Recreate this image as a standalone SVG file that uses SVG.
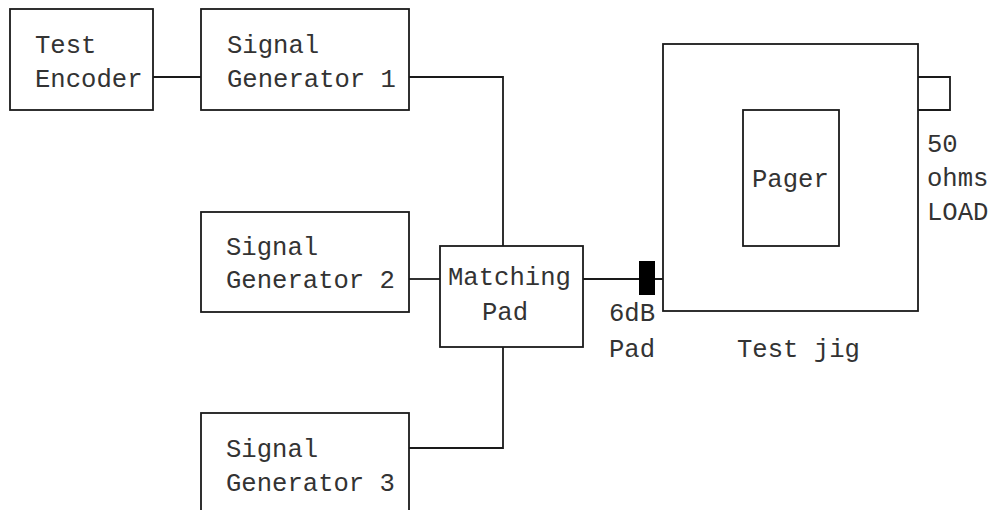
<svg xmlns="http://www.w3.org/2000/svg" width="998" height="510" viewBox="0 0 998 510">
<style>
.box{fill:#fff;stroke:#1a1a1a;stroke-width:1.8}
.ln{fill:none;stroke:#1a1a1a;stroke-width:1.8}
text{font-family:"Liberation Mono","Courier New",monospace;font-size:25.6px;fill:#333}
</style>
<rect width="998" height="510" fill="#fff"/>
<g id="connectors">
<line class="ln" x1="153" y1="77" x2="201" y2="77"/>
<polyline class="ln" points="409,77 503,77 503,246"/>
<line class="ln" x1="409" y1="279" x2="440" y2="279"/>
<polyline class="ln" points="409,448 503,448 503,347"/>
<line class="ln" x1="583" y1="279" x2="663" y2="279"/>
<polyline class="ln" points="918,77 950,77 950,110 918,110"/>
</g>
<g id="test-encoder">
<rect class="box" x="10" y="9" width="143" height="101"/>
<text x="35" y="53">Test</text>
<text x="35" y="87">Encoder</text>
</g>
<g id="sig-gen-1">
<rect class="box" x="201" y="9" width="208" height="101"/>
<text x="227" y="53">Signal</text>
<text x="227" y="87">Generator 1</text>
</g>
<g id="sig-gen-2">
<rect class="box" x="201" y="212" width="208" height="100"/>
<text x="226" y="255">Signal</text>
<text x="226" y="288">Generator 2</text>
</g>
<g id="sig-gen-3">
<rect class="box" x="201" y="413" width="208" height="110"/>
<text x="226" y="457">Signal</text>
<text x="226" y="491">Generator 3</text>
</g>
<g id="matching-pad">
<rect class="box" x="440" y="246" width="143" height="101"/>
<text x="448" y="285">Matching</text>
<text x="482" y="320">Pad</text>
</g>
<g id="pad-6db">
<rect x="639" y="261" width="16" height="34" fill="#000"/>
<text x="609" y="321">6dB</text>
<text x="609" y="357">Pad</text>
</g>
<g id="test-jig">
<rect class="box" x="663" y="44" width="255" height="267"/>
<text x="737" y="357">Test jig</text>
</g>
<g id="pager">
<rect class="box" x="743" y="110" width="96" height="136"/>
<text x="752" y="187">Pager</text>
</g>
<g id="load">
<text x="927" y="152">50</text>
<text x="927" y="186">ohms</text>
<text x="927" y="220">LOAD</text>
</g>
</svg>
